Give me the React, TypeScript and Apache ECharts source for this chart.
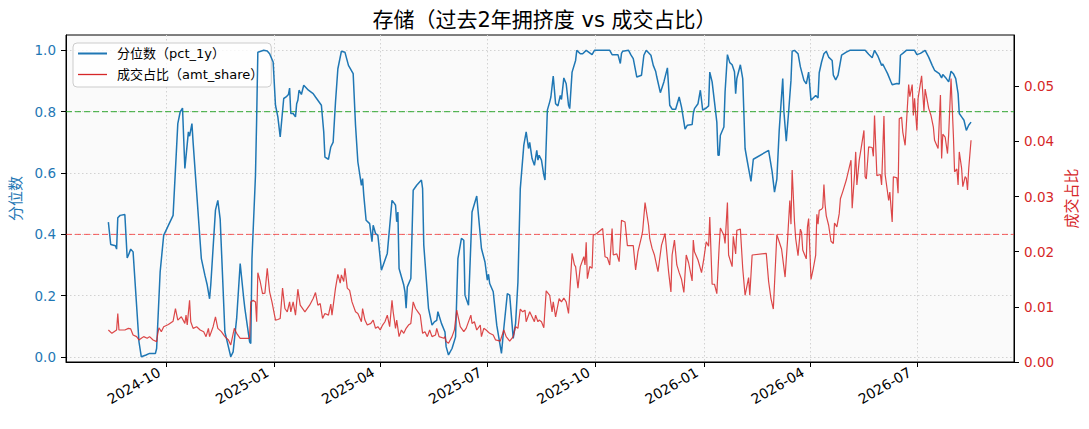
import { useEffect, useRef } from "react";
import * as echarts from "echarts";

const TITLE = "存储（过去2年拥挤度 vs 成交占比）";
const PCT_NAME = "分位数（pct_1y）";
const SHARE_NAME = "成交占比（amt_share）";
const PCT_AXIS = "分位数";
const SHARE_AXIS = "成交占比";

const xStart = "2024-07-08";
const xEnd = "2026-09-21";
const xTickDates = [
  "2024-10-01", "2025-01-01", "2025-04-01", "2025-07-01",
  "2025-10-01", "2026-01-01", "2026-04-01", "2026-07-01",
];
const pctTicks = [0, 0.2, 0.4, 0.6, 0.8, 1.0];
const shareTicks = [0, 0.01, 0.02, 0.03, 0.04, 0.05];
const hotLevel = 0.8;
const coldLevel = 0.4;

// 分位数 pct_1y
const pctPoints: [string, number][] = [
  ["2024-08-13", 0.44], ["2024-08-15", 0.367], ["2024-08-19", 0.363], ["2024-08-20", 0.352],
  ["2024-08-21", 0.454], ["2024-08-23", 0.462], ["2024-08-27", 0.465], ["2024-08-29", 0.323],
  ["2024-08-30", 0.332], ["2024-09-01", 0.352], ["2024-09-03", 0.343], ["2024-09-08", 0.05],
  ["2024-09-10", 0.001], ["2024-09-14", 0.007], ["2024-09-17", 0.012], ["2024-09-22", 0.012],
  ["2024-09-23", 0.028], ["2024-09-26", 0.278], ["2024-09-29", 0.397], ["2024-10-07", 0.462],
  ["2024-10-11", 0.761], ["2024-10-13", 0.799], ["2024-10-15", 0.812], ["2024-10-17", 0.615],
  ["2024-10-20", 0.734], ["2024-10-21", 0.72], ["2024-10-23", 0.761], ["2024-10-24", 0.7],
  ["2024-10-31", 0.321], ["2024-11-03", 0.267], ["2024-11-05", 0.235], ["2024-11-07", 0.19],
  ["2024-11-08", 0.235], ["2024-11-12", 0.479], ["2024-11-14", 0.511], ["2024-11-16", 0.45],
  ["2024-11-20", 0.082], ["2024-11-25", 0.001], ["2024-11-27", 0.017], ["2024-11-30", 0.126],
  ["2024-12-03", 0.305], ["2024-12-06", 0.191], ["2024-12-07", 0.158], ["2024-12-11", 0.05],
  ["2024-12-12", 0.044], ["2024-12-13", 0.32], ["2024-12-16", 0.593], ["2024-12-17", 0.777],
  ["2024-12-18", 0.994], ["2024-12-23", 1.0], ["2024-12-26", 0.998], ["2024-12-28", 0.989],
  ["2024-12-31", 0.962], ["2025-01-02", 0.821], ["2025-01-04", 0.783], ["2025-01-06", 0.718],
  ["2025-01-09", 0.843], ["2025-01-11", 0.848], ["2025-01-13", 0.856], ["2025-01-14", 0.877],
  ["2025-01-15", 0.794], ["2025-01-17", 0.794], ["2025-01-19", 0.783], ["2025-01-20", 0.826],
  ["2025-01-21", 0.837], ["2025-01-22", 0.87], ["2025-01-24", 0.856], ["2025-01-26", 0.886],
  ["2025-01-30", 0.87], ["2025-02-03", 0.859], ["2025-02-05", 0.848], ["2025-02-10", 0.821],
  ["2025-02-12", 0.734], ["2025-02-13", 0.652], ["2025-02-16", 0.645], ["2025-02-18", 0.685],
  ["2025-02-20", 0.701], ["2025-02-22", 0.832], ["2025-02-24", 0.94], ["2025-02-27", 0.997],
  ["2025-03-02", 0.994], ["2025-03-05", 0.951], ["2025-03-09", 0.924], ["2025-03-11", 0.756],
  ["2025-03-13", 0.636], ["2025-03-16", 0.56], ["2025-03-17", 0.582], ["2025-03-18", 0.528],
  ["2025-03-20", 0.446], ["2025-03-23", 0.435], ["2025-03-25", 0.376], ["2025-03-26", 0.43],
  ["2025-03-28", 0.403], ["2025-03-30", 0.397], ["2025-04-02", 0.283], ["2025-04-07", 0.338],
  ["2025-04-11", 0.511], ["2025-04-13", 0.501], ["2025-04-14", 0.495], ["2025-04-15", 0.441],
  ["2025-04-16", 0.473], ["2025-04-17", 0.289], ["2025-04-21", 0.235], ["2025-04-22", 0.213],
  ["2025-04-23", 0.159], ["2025-04-24", 0.229], ["2025-04-27", 0.256], ["2025-04-29", 0.544],
  ["2025-05-02", 0.56], ["2025-05-06", 0.577], ["2025-05-07", 0.549], ["2025-05-08", 0.365],
  ["2025-05-12", 0.159], ["2025-05-15", 0.104], ["2025-05-17", 0.115], ["2025-05-19", 0.12],
  ["2025-05-20", 0.148], ["2025-05-23", 0.11], ["2025-05-26", 0.082], ["2025-05-27", 0.034],
  ["2025-05-29", 0.007], ["2025-06-01", 0.028], ["2025-06-04", 0.066], ["2025-06-06", 0.321],
  ["2025-06-09", 0.387], ["2025-06-11", 0.381], ["2025-06-12", 0.202], ["2025-06-15", 0.169],
  ["2025-06-18", 0.473], ["2025-06-22", 0.525], ["2025-06-26", 0.354], ["2025-06-29", 0.31],
  ["2025-07-01", 0.251], ["2025-07-02", 0.27], ["2025-07-03", 0.24], ["2025-07-06", 0.213],
  ["2025-07-09", 0.104], ["2025-07-13", 0.012], ["2025-07-15", 0.094], ["2025-07-18", 0.207],
  ["2025-07-20", 0.202], ["2025-07-23", 0.061], ["2025-07-25", 0.11], ["2025-07-27", 0.245],
  ["2025-07-29", 0.549], ["2025-08-01", 0.691], ["2025-08-03", 0.734], ["2025-08-05", 0.68],
  ["2025-08-06", 0.7], ["2025-08-08", 0.647], ["2025-08-10", 0.625], ["2025-08-12", 0.674],
  ["2025-08-13", 0.642], ["2025-08-14", 0.658], ["2025-08-16", 0.642], ["2025-08-18", 0.593],
  ["2025-08-19", 0.577], ["2025-08-21", 0.805], ["2025-08-23", 0.832], ["2025-08-24", 0.848],
  ["2025-08-26", 0.916], ["2025-08-28", 0.826], ["2025-08-30", 0.819], ["2025-09-01", 0.853],
  ["2025-09-02", 0.84], ["2025-09-04", 0.91], ["2025-09-06", 0.891], ["2025-09-08", 0.821],
  ["2025-09-09", 0.81], ["2025-09-11", 0.929], ["2025-09-14", 0.967], ["2025-09-15", 1.0],
  ["2025-09-18", 0.989], ["2025-09-20", 0.989], ["2025-09-23", 1.0], ["2025-09-28", 0.986],
  ["2025-09-30", 1.0], ["2025-10-13", 1.0], ["2025-10-15", 0.986], ["2025-10-20", 0.986],
  ["2025-10-22", 0.957], ["2025-10-23", 0.99], ["2025-10-24", 0.997], ["2025-10-29", 1.0],
  ["2025-10-31", 0.985], ["2025-11-02", 0.973], ["2025-11-05", 0.913], ["2025-11-09", 0.919],
  ["2025-11-11", 0.984], ["2025-11-13", 1.0], ["2025-11-17", 0.984], ["2025-11-19", 0.951],
  ["2025-11-21", 0.932], ["2025-11-22", 0.913], ["2025-11-25", 0.862], ["2025-11-28", 0.897],
  ["2025-12-01", 0.943], ["2025-12-03", 0.821], ["2025-12-05", 0.808], ["2025-12-08", 0.808],
  ["2025-12-11", 0.848], ["2025-12-13", 0.815], ["2025-12-16", 0.743], ["2025-12-18", 0.756],
  ["2025-12-22", 0.758], ["2025-12-23", 0.794], ["2025-12-24", 0.81], ["2025-12-27", 0.826],
  ["2025-12-29", 0.87], ["2025-12-31", 0.805], ["2026-01-03", 0.812], ["2026-01-05", 0.819],
  ["2026-01-06", 0.929], ["2026-01-08", 0.897], ["2026-01-10", 0.832], ["2026-01-12", 0.766],
  ["2026-01-13", 0.658], ["2026-01-14", 0.658], ["2026-01-15", 0.723], ["2026-01-18", 0.75],
  ["2026-01-19", 0.864], ["2026-01-21", 0.986], ["2026-01-23", 0.96], ["2026-01-25", 0.953],
  ["2026-01-27", 0.93], ["2026-01-28", 0.859], ["2026-01-29", 0.908], ["2026-02-01", 0.953],
  ["2026-02-03", 0.908], ["2026-02-05", 0.68], ["2026-02-07", 0.636], ["2026-02-10", 0.573],
  ["2026-02-12", 0.645], ["2026-02-25", 0.674], ["2026-02-28", 0.604], ["2026-03-02", 0.538],
  ["2026-03-04", 0.58], ["2026-03-06", 0.739], ["2026-03-09", 0.908], ["2026-03-10", 0.8],
  ["2026-03-12", 0.704], ["2026-03-14", 0.799], ["2026-03-16", 0.902], ["2026-03-17", 0.997],
  ["2026-03-19", 1.0], ["2026-03-22", 0.989], ["2026-03-24", 0.946], ["2026-03-27", 0.902],
  ["2026-03-29", 0.891], ["2026-03-31", 0.929], ["2026-04-02", 0.837], ["2026-04-06", 0.853],
  ["2026-04-08", 0.845], ["2026-04-09", 0.927], ["2026-04-11", 0.962], ["2026-04-13", 0.989],
  ["2026-04-15", 0.997], ["2026-04-17", 0.978], ["2026-04-20", 0.967], ["2026-04-21", 0.919],
  ["2026-04-23", 0.904], ["2026-04-25", 0.919], ["2026-04-28", 0.984], ["2026-05-02", 0.994],
  ["2026-05-05", 1.0], ["2026-05-18", 1.0], ["2026-05-21", 0.987], ["2026-05-24", 0.976],
  ["2026-05-26", 1.0], ["2026-05-29", 0.98], ["2026-06-01", 0.951], ["2026-06-02", 0.955],
  ["2026-06-04", 0.94], ["2026-06-06", 0.925], ["2026-06-09", 0.897], ["2026-06-10", 0.888],
  ["2026-06-14", 0.892], ["2026-06-16", 0.89], ["2026-06-17", 0.984], ["2026-06-19", 0.99],
  ["2026-06-22", 1.0], ["2026-06-29", 1.0], ["2026-07-01", 0.986], ["2026-07-04", 0.99],
  ["2026-07-08", 1.0], ["2026-07-11", 0.978], ["2026-07-14", 0.951], ["2026-07-16", 0.935],
  ["2026-07-20", 0.924], ["2026-07-22", 0.91], ["2026-07-23", 0.921], ["2026-07-26", 0.908],
  ["2026-07-28", 0.897], ["2026-07-30", 0.932], ["2026-08-01", 0.924], ["2026-08-03", 0.908],
  ["2026-08-05", 0.859], ["2026-08-06", 0.794], ["2026-08-08", 0.783], ["2026-08-10", 0.772],
  ["2026-08-12", 0.739], ["2026-08-14", 0.756], ["2026-08-16", 0.766],
];

// 成交占比 amt_share
const sharePoints: [string, number][] = [
  ["2024-08-13", 0.0058], ["2024-08-16", 0.0052], ["2024-08-20", 0.0058], ["2024-08-21", 0.0088],
  ["2024-08-22", 0.0058], ["2024-08-27", 0.0058], ["2024-08-30", 0.0061], ["2024-09-01", 0.006],
  ["2024-09-03", 0.0049], ["2024-09-06", 0.0046], ["2024-09-08", 0.004], ["2024-09-10", 0.0043],
  ["2024-09-12", 0.0046], ["2024-09-15", 0.0043], ["2024-09-17", 0.0046], ["2024-09-20", 0.004],
  ["2024-09-23", 0.0037], ["2024-09-24", 0.0052], ["2024-09-25", 0.0062], ["2024-09-27", 0.0055],
  ["2024-09-29", 0.0064], ["2024-10-03", 0.0068], ["2024-10-07", 0.0074], ["2024-10-09", 0.0097],
  ["2024-10-11", 0.0076], ["2024-10-14", 0.0082], ["2024-10-17", 0.007], ["2024-10-18", 0.0085],
  ["2024-10-19", 0.0067], ["2024-10-21", 0.0112], ["2024-10-22", 0.0073], ["2024-10-24", 0.0061],
  ["2024-10-27", 0.0064], ["2024-10-30", 0.0058], ["2024-11-02", 0.0055], ["2024-11-04", 0.0046],
  ["2024-11-06", 0.0061], ["2024-11-07", 0.0046], ["2024-11-10", 0.0064], ["2024-11-12", 0.0082],
  ["2024-11-14", 0.0061], ["2024-11-17", 0.0055], ["2024-11-20", 0.0046], ["2024-11-23", 0.004],
  ["2024-11-25", 0.0031], ["2024-11-28", 0.0061], ["2024-11-30", 0.0052], ["2024-12-03", 0.0043],
  ["2024-12-06", 0.0043], ["2024-12-11", 0.0043], ["2024-12-12", 0.0109], ["2024-12-14", 0.0112],
  ["2024-12-16", 0.0109], ["2024-12-17", 0.0073], ["2024-12-18", 0.0162], ["2024-12-20", 0.0146],
  ["2024-12-22", 0.0124], ["2024-12-24", 0.0125], ["2024-12-26", 0.017], ["2024-12-28", 0.0127],
  ["2024-12-30", 0.0109], ["2025-01-02", 0.0076], ["2025-01-04", 0.0077], ["2025-01-06", 0.0079],
  ["2025-01-08", 0.0134], ["2025-01-10", 0.0097], ["2025-01-12", 0.0091], ["2025-01-14", 0.0109],
  ["2025-01-15", 0.0091], ["2025-01-17", 0.0109], ["2025-01-19", 0.0085], ["2025-01-21", 0.0132],
  ["2025-01-23", 0.0103], ["2025-01-27", 0.0091], ["2025-01-31", 0.0103], ["2025-02-03", 0.0115],
  ["2025-02-05", 0.0126], ["2025-02-07", 0.0103], ["2025-02-09", 0.0106], ["2025-02-11", 0.0079],
  ["2025-02-13", 0.0088], ["2025-02-16", 0.0085], ["2025-02-18", 0.0105], ["2025-02-19", 0.0085],
  ["2025-02-22", 0.0134], ["2025-02-24", 0.0159], ["2025-02-26", 0.0143], ["2025-02-27", 0.0158],
  ["2025-03-01", 0.0146], ["2025-03-02", 0.017], ["2025-03-04", 0.0134], ["2025-03-06", 0.013],
  ["2025-03-08", 0.0109], ["2025-03-11", 0.0091], ["2025-03-13", 0.0088], ["2025-03-16", 0.0073],
  ["2025-03-17", 0.0097], ["2025-03-19", 0.0076], ["2025-03-21", 0.0067], ["2025-03-24", 0.007],
  ["2025-03-26", 0.0076], ["2025-03-28", 0.0061], ["2025-03-30", 0.0064], ["2025-04-01", 0.0058],
  ["2025-04-03", 0.0067], ["2025-04-05", 0.0073], ["2025-04-07", 0.0085], ["2025-04-09", 0.0064],
  ["2025-04-11", 0.0112], ["2025-04-12", 0.0091], ["2025-04-14", 0.0061], ["2025-04-15", 0.0076],
  ["2025-04-17", 0.0046], ["2025-04-19", 0.0058], ["2025-04-21", 0.0052], ["2025-04-23", 0.0061],
  ["2025-04-25", 0.0067], ["2025-04-27", 0.007], ["2025-04-29", 0.0109], ["2025-05-01", 0.0097],
  ["2025-05-03", 0.0091], ["2025-05-05", 0.0085], ["2025-05-07", 0.0052], ["2025-05-09", 0.0055],
  ["2025-05-11", 0.0046], ["2025-05-13", 0.0058], ["2025-05-15", 0.0046], ["2025-05-18", 0.0049],
  ["2025-05-19", 0.0061], ["2025-05-21", 0.0046], ["2025-05-25", 0.0043], ["2025-05-26", 0.0046],
  ["2025-05-27", 0.0037], ["2025-05-29", 0.0034], ["2025-06-01", 0.0046], ["2025-06-03", 0.0058],
  ["2025-06-05", 0.0094], ["2025-06-08", 0.0064], ["2025-06-11", 0.0055], ["2025-06-13", 0.0061],
  ["2025-06-17", 0.0085], ["2025-06-18", 0.007], ["2025-06-20", 0.0073], ["2025-06-22", 0.0058],
  ["2025-06-25", 0.0067], ["2025-06-26", 0.0046], ["2025-06-28", 0.0061], ["2025-06-30", 0.0058],
  ["2025-07-03", 0.0052], ["2025-07-06", 0.0049], ["2025-07-08", 0.004], ["2025-07-12", 0.0038],
  ["2025-07-15", 0.0058], ["2025-07-17", 0.0046], ["2025-07-20", 0.0038], ["2025-07-23", 0.0046],
  ["2025-07-25", 0.0064], ["2025-07-27", 0.0061], ["2025-07-29", 0.0096], ["2025-07-31", 0.0091],
  ["2025-08-02", 0.0094], ["2025-08-03", 0.0073], ["2025-08-06", 0.0091], ["2025-08-08", 0.0082],
  ["2025-08-10", 0.0073], ["2025-08-11", 0.0085], ["2025-08-13", 0.0073], ["2025-08-14", 0.0076],
  ["2025-08-16", 0.0073], ["2025-08-18", 0.0062], ["2025-08-20", 0.0129], ["2025-08-23", 0.0121],
  ["2025-08-25", 0.0091], ["2025-08-26", 0.0109], ["2025-08-28", 0.0082], ["2025-08-31", 0.0115],
  ["2025-09-02", 0.0109], ["2025-09-04", 0.0116], ["2025-09-06", 0.0109], ["2025-09-08", 0.0088],
  ["2025-09-11", 0.0197], ["2025-09-13", 0.0176], ["2025-09-14", 0.0173], ["2025-09-16", 0.0134],
  ["2025-09-18", 0.0173], ["2025-09-21", 0.0191], ["2025-09-22", 0.0176], ["2025-09-23", 0.0217],
  ["2025-09-24", 0.0151], ["2025-09-26", 0.0173], ["2025-09-28", 0.017], ["2025-09-29", 0.023],
  ["2025-10-02", 0.0233], ["2025-10-07", 0.0242], ["2025-10-09", 0.0191], ["2025-10-11", 0.0189],
  ["2025-10-13", 0.0176], ["2025-10-15", 0.0242], ["2025-10-16", 0.0194], ["2025-10-19", 0.0196],
  ["2025-10-21", 0.0182], ["2025-10-23", 0.0257], ["2025-10-26", 0.0254], ["2025-10-28", 0.0211],
  ["2025-11-02", 0.0211], ["2025-11-04", 0.0167], ["2025-11-06", 0.02], ["2025-11-09", 0.0227],
  ["2025-11-10", 0.0238], ["2025-11-12", 0.0289], ["2025-11-15", 0.0248], ["2025-11-16", 0.0224],
  ["2025-11-18", 0.0206], ["2025-11-20", 0.0194], ["2025-11-23", 0.0164], ["2025-11-24", 0.018],
  ["2025-11-26", 0.0212], ["2025-11-29", 0.0233], ["2025-12-02", 0.0164], ["2025-12-04", 0.0127],
  ["2025-12-05", 0.0194], ["2025-12-07", 0.0221], ["2025-12-09", 0.0176], ["2025-12-11", 0.0162],
  ["2025-12-13", 0.015], ["2025-12-15", 0.0126], ["2025-12-17", 0.0194], ["2025-12-19", 0.018],
  ["2025-12-22", 0.0147], ["2025-12-23", 0.0221], ["2025-12-24", 0.02], ["2025-12-27", 0.0185],
  ["2025-12-30", 0.0162], ["2026-01-01", 0.0188], ["2026-01-03", 0.0218], ["2026-01-05", 0.021],
  ["2026-01-06", 0.0263], ["2026-01-08", 0.0141], ["2026-01-10", 0.0141], ["2026-01-12", 0.0124],
  ["2026-01-14", 0.021], ["2026-01-15", 0.0243], ["2026-01-18", 0.023], ["2026-01-19", 0.0215],
  ["2026-01-21", 0.0289], ["2026-01-22", 0.0194], ["2026-01-25", 0.0173], ["2026-01-26", 0.0228],
  ["2026-01-28", 0.0196], ["2026-01-29", 0.0239], ["2026-02-01", 0.0241], ["2026-02-03", 0.017],
  ["2026-02-05", 0.0121], ["2026-02-08", 0.0153], ["2026-02-09", 0.0121], ["2026-02-11", 0.0194],
  ["2026-02-23", 0.0197], ["2026-02-25", 0.0146], ["2026-02-27", 0.0115], ["2026-03-01", 0.0096],
  ["2026-03-04", 0.0231], ["2026-03-06", 0.0218], ["2026-03-08", 0.0205], ["2026-03-11", 0.0154],
  ["2026-03-13", 0.0218], ["2026-03-15", 0.0293], ["2026-03-16", 0.025], ["2026-03-17", 0.0348],
  ["2026-03-19", 0.0254], ["2026-03-20", 0.0224], ["2026-03-22", 0.0193], ["2026-03-24", 0.0241],
  ["2026-03-25", 0.0235], ["2026-03-26", 0.0203], ["2026-03-29", 0.0187], ["2026-03-30", 0.0245],
  ["2026-03-31", 0.026], ["2026-04-02", 0.015], ["2026-04-04", 0.017], ["2026-04-06", 0.0194],
  ["2026-04-07", 0.0268], ["2026-04-08", 0.025], ["2026-04-09", 0.0275], ["2026-04-11", 0.0277],
  ["2026-04-12", 0.028], ["2026-04-13", 0.0322], ["2026-04-14", 0.0285], ["2026-04-15", 0.0265],
  ["2026-04-17", 0.0248], ["2026-04-19", 0.0219], ["2026-04-21", 0.0215], ["2026-04-22", 0.0252],
  ["2026-04-24", 0.0245], ["2026-04-26", 0.0269], ["2026-04-27", 0.0296], ["2026-04-29", 0.0309],
  ["2026-05-02", 0.033], ["2026-05-06", 0.0366], ["2026-05-07", 0.0279], ["2026-05-09", 0.034],
  ["2026-05-10", 0.0381], ["2026-05-11", 0.0321], ["2026-05-13", 0.0366], ["2026-05-15", 0.0393],
  ["2026-05-17", 0.042], ["2026-05-18", 0.0336], ["2026-05-19", 0.0332], ["2026-05-21", 0.039],
  ["2026-05-24", 0.0389], ["2026-05-25", 0.0373], ["2026-05-26", 0.0447], ["2026-05-28", 0.0338],
  ["2026-05-31", 0.034], ["2026-06-01", 0.0321], ["2026-06-03", 0.0446], ["2026-06-04", 0.034],
  ["2026-06-07", 0.0293], ["2026-06-08", 0.0308], ["2026-06-10", 0.0254], ["2026-06-11", 0.0336],
  ["2026-06-14", 0.0334], ["2026-06-15", 0.0306], ["2026-06-16", 0.0441], ["2026-06-18", 0.0444],
  ["2026-06-19", 0.0417], ["2026-06-21", 0.0393], ["2026-06-22", 0.0429], ["2026-06-24", 0.0503],
  ["2026-06-25", 0.0481], ["2026-06-27", 0.0503], ["2026-06-28", 0.0447], ["2026-06-29", 0.0478],
  ["2026-07-01", 0.042], ["2026-07-02", 0.0478], ["2026-07-05", 0.0519], ["2026-07-07", 0.0455],
  ["2026-07-08", 0.0495], ["2026-07-11", 0.046], ["2026-07-13", 0.0447], ["2026-07-15", 0.0426],
  ["2026-07-16", 0.0402], ["2026-07-19", 0.0387], ["2026-07-21", 0.0484], ["2026-07-22", 0.0369],
  ["2026-07-23", 0.0413], ["2026-07-25", 0.0408], ["2026-07-27", 0.0378], ["2026-07-28", 0.0413],
  ["2026-07-30", 0.0514], ["2026-08-01", 0.0411], ["2026-08-02", 0.0345], ["2026-08-04", 0.035],
  ["2026-08-05", 0.0321], ["2026-08-06", 0.0381], ["2026-08-08", 0.0351], ["2026-08-09", 0.0318],
  ["2026-08-11", 0.0336], ["2026-08-12", 0.0333], ["2026-08-13", 0.0312], ["2026-08-14", 0.035],
  ["2026-08-16", 0.0402],
];

const BLUE = "#1f77b4";
const RED = "#d62728";
const FONT = "'DejaVu Sans', 'Noto Sans CJK SC', sans-serif";

function ts(s: string) {
  const [y, m, d] = s.split("-").map(Number);
  return Date.UTC(y, m - 1, d);
}

function fmtMonth(v: number) {
  const d = new Date(v);
  return `${d.getUTCFullYear()}-${String(d.getUTCMonth() + 1).padStart(2, "0")}`;
}

export default function App() {
  const ref = useRef<HTMLDivElement | null>(null);

  useEffect(() => {
    const el = ref.current!;
    const chart = echarts.init(el, undefined, { renderer: "svg" });
    const xMin = ts(xStart);
    const xMax = ts(xEnd) + 12 * 3600 * 1000;
    const xTicks = xTickDates.map(ts);
    const grid = { color: "#d2d2d2", width: 1, type: [1.5, 2.5] };

    // horizontal dashed reference line across the whole x range (left axis)
    const levelLine = (level: number, color: string) => ({
      type: "line",
      yAxisIndex: 0,
      symbol: "none",
      silent: true,
      z: 3,
      data: [[xMin, level], [xMax, level]],
      lineStyle: { color, width: 1, type: [6, 3] },
    });

    chart.setOption({
      animation: false,
      backgroundColor: "#ffffff",
      textStyle: { fontFamily: FONT },
      title: {
        text: TITLE,
        left: "center",
        top: 4,
        textStyle: { fontSize: 21, fontWeight: "normal", color: "#000", fontFamily: FONT },
      },
      legend: {
        left: 73,
        top: 43,
        orient: "vertical",
        itemWidth: 29,
        itemHeight: 14,
        itemGap: 8,
        padding: [4, 8, 6, 5],
        backgroundColor: "rgba(255,255,255,0.8)",
        borderColor: "#cccccc",
        borderWidth: 1,
        borderRadius: 4,
        textStyle: { fontSize: 13, color: "#000", fontFamily: FONT, padding: [0, 0, 0, 5] },
        data: [
          { name: PCT_NAME, icon: "path://M0,0H29V2H0Z" },
          { name: SHARE_NAME, icon: "path://M0,0H29V1.3H0Z" },
        ],
      },
      grid: {
        left: 66, right: 75, top: 35, bottom: 67,
        show: true, backgroundColor: "#fafafa", borderColor: "#000", borderWidth: 1,
      },
      xAxis: {
        type: "value",
        min: xMin,
        max: xMax,
        axisLine: { show: true, onZero: false, lineStyle: { color: "#000", width: 1 } },
        axisTick: { show: true, customValues: xTicks, length: 5, lineStyle: { color: "#000" } },
        axisLabel: {
          customValues: xTicks, rotate: 30, formatter: (v: number) => fmtMonth(v),
          fontSize: 14, color: "#000", margin: 5, fontFamily: FONT, padding: [0, 8, 10, 0],
        },
        splitLine: { show: true, lineStyle: grid },
      },
      yAxis: [
        {
          type: "value",
          position: "left",
          min: -0.016,
          max: 1.05,
          name: PCT_AXIS,
          nameLocation: "middle",
          nameGap: 38,
          nameRotate: 90,
          nameTextStyle: { color: BLUE, fontSize: 15, fontFamily: FONT },
          axisLine: { show: true, lineStyle: { color: "#000", width: 1 } },
          axisTick: { show: true, customValues: pctTicks, length: 5, lineStyle: { color: "#000" } },
          axisLabel: {
            customValues: pctTicks, formatter: (v: number) => v.toFixed(1),
            color: BLUE, fontSize: 13.5, margin: 10, fontFamily: FONT,
          },
          splitLine: { show: true, lineStyle: grid },
        },
        {
          type: "value",
          position: "right",
          min: 0,
          max: 0.0593,
          name: SHARE_AXIS,
          nameLocation: "middle",
          nameGap: 46,
          nameRotate: 90,
          nameTextStyle: { color: RED, fontSize: 15, fontFamily: FONT },
          axisLine: { show: true, lineStyle: { color: "#000", width: 1 } },
          axisTick: { show: true, customValues: shareTicks, length: 5, lineStyle: { color: "#000" } },
          axisLabel: {
            customValues: shareTicks, formatter: (v: number) => v.toFixed(2),
            color: RED, fontSize: 13.5, margin: 10, fontFamily: FONT,
          },
          splitLine: { show: false },
        },
      ],
      series: [
        levelLine(hotLevel, "rgba(30,160,30,0.9)"),
        levelLine(coldLevel, "rgba(245,40,40,0.75)"),
        {
          name: PCT_NAME,
          type: "line",
          yAxisIndex: 0,
          symbol: "none",
          showSymbol: false,
          z: 4,
          data: pctPoints.map(([d, v]) => [ts(d), v]),
          lineStyle: { color: BLUE, width: 1.5 },
          itemStyle: { color: BLUE },
        },
        {
          name: SHARE_NAME,
          type: "line",
          yAxisIndex: 1,
          symbol: "none",
          showSymbol: false,
          z: 5,
          data: sharePoints.map(([d, v]) => [ts(d), v]),
          lineStyle: { color: RED, width: 1.2, opacity: 0.85 },
          itemStyle: { color: RED },
        },
      ],
    });

    return () => chart.dispose();
  }, []);

  return <div ref={ref} style={{ position: "fixed", left: 0, top: 0, width: 1089, height: 429 }} />;
}
